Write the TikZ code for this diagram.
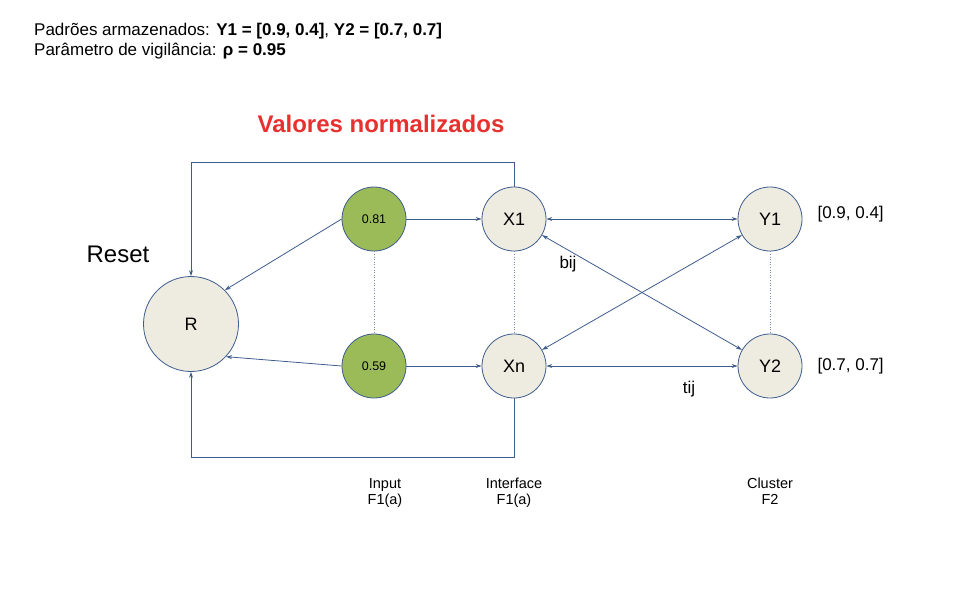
\documentclass[tikz,border=0pt]{standalone}
\usepackage{fontspec}
\setmainfont{Liberation Sans}
\usetikzlibrary{arrows.meta}
\definecolor{lineblue}{HTML}{3E5C8E}
\definecolor{greenfill}{HTML}{9BBB59}
\definecolor{beige}{HTML}{EEECE1}
\definecolor{redtitle}{HTML}{E8302F}
\begin{document}
\begin{tikzpicture}[x=1pt,y=-1pt,
  neuron/.style={circle, draw=lineblue, line width=0.8pt, fill=beige, minimum size=64pt, inner sep=0pt, font=\fontsize{18}{20}\selectfont},
  inneuron/.style={neuron, fill=greenfill, font=\fontsize{12.5}{14}\selectfont},
  conn/.style={draw=lineblue, line width=0.8pt, -{Stealth[length=6pt,width=4pt]}},
  biconn/.style={draw=lineblue, line width=0.8pt, {Stealth[length=6pt,width=4pt]}-{Stealth[length=6pt,width=4pt]}},
  dotline/.style={draw=lineblue!70, line width=0.6pt, dotted},
  lbl/.style={font=\fontsize{14.5}{16}\selectfont, align=center},
  lbl2/.style={font=\fontsize{17}{19}\selectfont}
]
\useasboundingbox (0,0) rectangle (965,598);

% header
\node[anchor=west, font=\fontsize{17}{19}\selectfont, inner sep=0pt] (h1) at (34,31) {Padrões armazenados: \textbf{Y1 = [0.9, 0.4]}, \textbf{Y2 = [0.7, 0.7]}};
\node[anchor=west, font=\fontsize{17}{19}\selectfont, inner sep=0pt] (h2) at (34,51) {Parâmetro de vigilância: \textbf{ρ = 0.95}};

\node[font=\bfseries\fontsize{24}{28}\selectfont, text=redtitle] (title) at (381,124) {Valores normalizados};
\node[font=\fontsize{24}{28}\selectfont] (reset) at (118,254) {Reset};

% nodes
\node[neuron, minimum size=95pt] (R) at (191,324) {R};
\node[inneuron] (I1) at (374,219) {0.81};
\node[inneuron] (I2) at (374,366) {0.59};
\node[neuron] (X1) at (514,219) {X1};
\node[neuron] (Xn) at (514,366) {Xn};
\node[neuron] (Y1) at (770,219) {Y1};
\node[neuron] (Y2) at (770,366) {Y2};

% dotted
\draw[dotline] (I1) -- (I2);
\draw[dotline] (X1) -- (Xn);
\draw[dotline] (Y1) -- (Y2);

% input to interface
\draw[conn] (I1) -- (X1);
\draw[conn] (I2) -- (Xn);
\draw[conn] (I1.west) -- (R.45);
\draw[conn] (I2.west) -- (R.-43);

% feedback loops
\coordinate (t1) at (514,162);
\coordinate (t2) at (191,162);
\coordinate (b1) at (514,457);
\coordinate (b2) at (191,457);
\draw[conn] (X1.north) -- (t1) -- (t2) -- (R.north);
\draw[conn] (Xn.south) -- (b1) -- (b2) -- (R.south);

% interface to cluster
\draw[biconn] (X1) -- (Y1);
\draw[biconn] (Xn) -- (Y2);
\draw[biconn] (X1) -- (Y2);
\draw[biconn] (Xn) -- (Y1);

% labels
\node[lbl2] (bij) at (568,264) {bij};
\node[lbl2] (tij) at (689,389) {tij};
\node[lbl2, anchor=west] (v1) at (814,214) {[0.9, 0.4]};
\node[lbl2, anchor=west] (v2) at (814,366) {[0.7, 0.7]};

\node[lbl] (lin) at (385,493) {\strut Input\\\strut F1(a)};
\node[lbl] (lif) at (514,493) {\strut Interface\\\strut F1(a)};
\node[lbl] (lcl) at (770,493) {\strut Cluster\\\strut F2};
\end{tikzpicture}
\end{document}
